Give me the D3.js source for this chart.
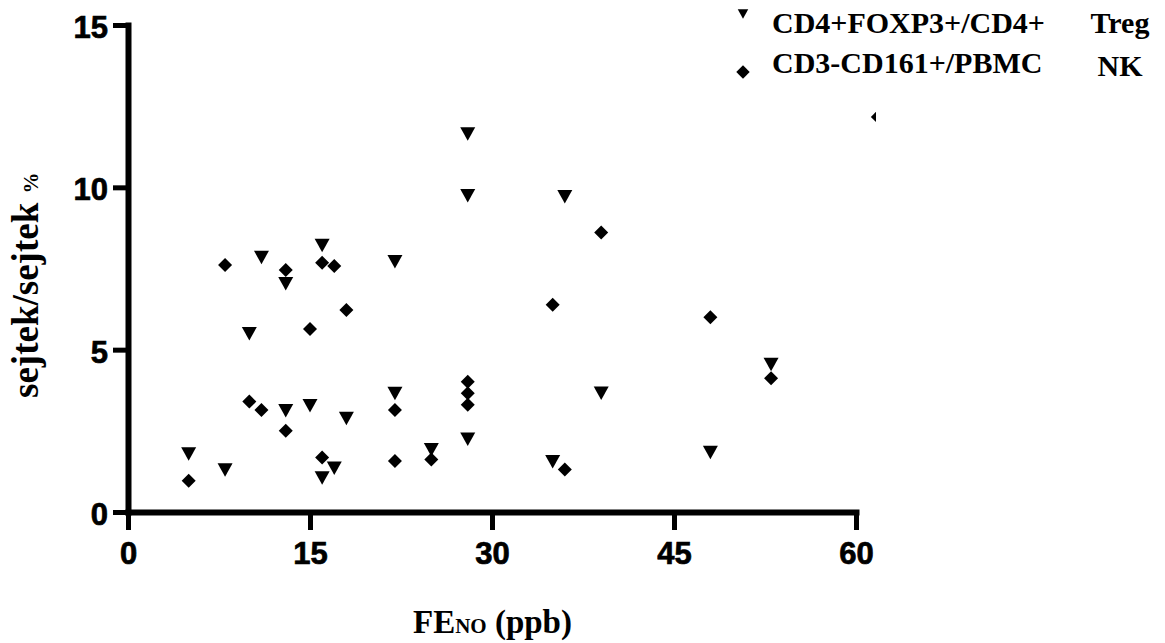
<!DOCTYPE html>
<html>
<head>
<meta charset="utf-8">
<script src="https://cdn.jsdelivr.net/npm/d3@7"></script>
<style>
  html, body { margin: 0; padding: 0; background: #fff; }
  svg { display: block; }
</style>
</head>
<body>
<svg id="chart" width="1165" height="643"></svg>
<script>
// FeNO (ppb) against cell ratios (%)
const tregFeno = [5, 8, 10, 11, 13, 13, 15, 16, 16, 17, 18, 22, 22, 25, 28, 28, 28, 35, 36, 39, 48, 53];
const tregPct  = [1.79, 1.29, 5.49, 7.84, 7.03, 3.12, 3.27, 8.21, 1.05, 1.35, 2.88, 7.71, 3.65, 1.92, 11.64, 9.74, 2.24, 1.55, 9.71, 3.66, 1.83, 4.54];

const nkFeno = [5, 8, 10, 11, 13, 13, 15, 16, 16, 17, 18, 22, 22, 25, 28, 28, 28, 35, 36, 39, 48, 53, 61.8];
const nkPct  = [0.96, 7.61, 3.40, 3.14, 7.45, 2.50, 5.64, 7.68, 1.68, 7.58, 6.22, 3.14, 1.57, 1.62, 4.01, 3.66, 3.30, 6.38, 1.31, 8.61, 6.00, 4.12, 12.17];

const xTicks = [0, 15, 30, 45, 60];
const yTicks = [0, 5, 10, 15];
const plotXMax = 61.65;   // the data area runs slightly past the last tick

const svg = d3.select("#chart");

const x = d3.scaleLinear().domain([0, 60]).range([128, 856]);
const y = d3.scaleLinear().domain([0, 15]).range([512, 25]);

// marker shapes
const triangleDown = {
  draw(ctx, size) {
    const s = Math.sqrt(size);
    ctx.moveTo(-s / 2, -s * 0.45);
    ctx.lineTo(s / 2, -s * 0.45);
    ctx.lineTo(0, s * 0.45);
    ctx.closePath();
  }
};
const diamond = {
  draw(ctx, size) {
    const r = Math.sqrt(size) / 2;
    ctx.moveTo(0, -r);
    ctx.lineTo(r, 0);
    ctx.lineTo(0, r);
    ctx.lineTo(-r, 0);
    ctx.closePath();
  }
};

// axes
const axisFont = "'Liberation Sans', Arial, Helvetica, sans-serif";

const yAxis = svg.append("g")
  .attr("transform", `translate(${x(0)},0)`)
  .call(d3.axisLeft(y).tickValues(yTicks).tickSize(15).tickSizeOuter(0).tickPadding(5));

const xAxis = svg.append("g")
  .attr("transform", `translate(0,${y(0)})`)
  .call(d3.axisBottom(x).tickValues(xTicks).tickSize(18).tickSizeOuter(0).tickPadding(12));

[yAxis, xAxis].forEach(g => {
  g.select(".domain").attr("stroke", "#000").attr("stroke-width", 6).attr("stroke-linecap", "square");
  g.selectAll(".tick line").attr("stroke", "#000").attr("stroke-width", 5);
  g.selectAll(".tick text")
    .attr("fill", "#000")
    .attr("stroke", "#000")
    .attr("stroke-width", 0.7)
    .style("font-family", axisFont)
    .style("font-weight", "bold")
    .style("font-size", "31px");
});
yAxis.selectAll(".tick text").attr("dy", "0.40em");
xAxis.selectAll(".tick text").attr("dy", "0.71em");

// data marks
svg.append("clipPath").attr("id", "plot-clip")
  .append("rect")
  .attr("x", 0).attr("y", 0)
  .attr("width", x(plotXMax)).attr("height", 643);

const marks = svg.append("g").attr("clip-path", "url(#plot-clip)");

marks.selectAll("path.treg")
  .data(d3.zip(tregFeno, tregPct))
  .join("path")
  .attr("class", "treg")
  .attr("transform", d => `translate(${x(d[0])},${y(d[1])})`)
  .attr("d", d3.symbol(triangleDown, 225))
  .attr("fill", "#000");

marks.selectAll("path.nk")
  .data(d3.zip(nkFeno, nkPct))
  .join("path")
  .attr("class", "nk")
  .attr("transform", d => `translate(${x(d[0])},${y(d[1])})`)
  .attr("d", d3.symbol(diamond, 196))
  .attr("fill", "#000");

// axis titles
const serif = "'Liberation Serif', 'Times New Roman', Times, serif";

const yTitle = svg.append("text")
  .attr("transform", "translate(38,398) rotate(-90)")
  .style("font-family", serif)
  .style("font-weight", "bold")
  .style("font-size", "37px")
  .attr("fill", "#000");
yTitle.append("tspan").text("sejtek/sejtek ");
yTitle.append("tspan").style("font-size", "21px").text("%");

const xTitle = svg.append("text")
  .attr("x", 413).attr("y", 633)
  .style("font-family", serif)
  .style("font-weight", "bold")
  .style("font-size", "33px")
  .attr("fill", "#000");
xTitle.append("tspan").text("FE");
xTitle.append("tspan").style("font-size", "21px").text("NO");
xTitle.append("tspan").text(" (ppb)");

// legend
const legendItems = [
  { label: "CD4+FOXP3+/CD4+", cell: "Treg", shape: triangleDown, size: 110, y: 33, cellY: 33, markY: 14 },
  { label: "CD3-CD161+/PBMC", cell: "NK", shape: diamond, size: 180, y: 73, cellY: 76, markY: 72 }
];

const legend = svg.append("g");
legendItems.forEach(it => {
  legend.append("path")
    .attr("transform", `translate(743,${it.markY})`)
    .attr("d", d3.symbol(it.shape, it.size))
    .attr("fill", "#000");
  legend.append("text")
    .attr("x", 772).attr("y", it.y)
    .style("font-family", serif)
    .style("font-weight", "bold")
    .style("font-size", "30px")
    .attr("fill", "#000")
    .text(it.label);
  legend.append("text")
    .attr("x", 1120).attr("y", it.cellY)
    .attr("text-anchor", "middle")
    .style("font-family", serif)
    .style("font-weight", "bold")
    .style("font-size", "30px")
    .attr("fill", "#000")
    .text(it.cell);
});
</script>
</body>
</html>
